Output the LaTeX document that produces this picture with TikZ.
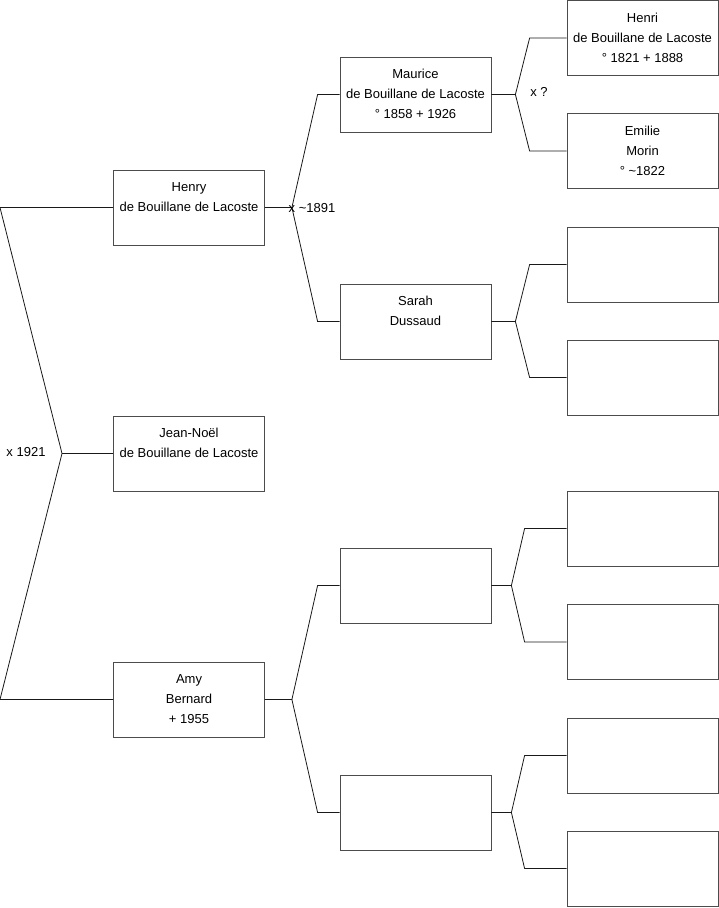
\documentclass[tikz,border=0pt]{standalone}
\usepackage{fontspec}
\setmainfont{Liberation Sans}
\usetikzlibrary{positioning}

\begin{document}
\begin{tikzpicture}[x=1pt,y=-1pt,
		person/.style={draw=black!70, line width=0.8pt, minimum width=151pt, minimum height=75pt, inner sep=0pt},
		txt/.style={align=center, inner sep=0pt, font=\fontsize{13}{20}\selectfont},
		linie/.style={draw=black!90, line width=0.8pt}]
		\useasboundingbox (0,0) rectangle (719,908);
		
		% Generation 1
		\node[person] (henry) at (189,207.5) {};
		\node[person] (jeannoel) at (189,453.5) {};
		\node[person] (amy) at (189,699.5) {};
		
		% Generation 2
		\node[person] (maurice) at (415.5,94.5) {};
		\node[person] (sarah) at (415.5,321.5) {};
		\node[person] (amyv) at (415.5,585.5) {};
		\node[person] (amym) at (415.5,812.5) {};
		
		% Generation 3
		\node[person] (henri) at (642.5,38) {};
		\node[person] (emilie) at (642.5,151) {};
		\node[person] (sarahv) at (642.5,264.5) {};
		\node[person] (sarahm) at (642.5,377.5) {};
		\node[person] (amyvv) at (642.5,528.5) {};
		\node[person] (amyvm) at (642.5,642) {};
		\node[person] (amymv) at (642.5,755.5) {};
		\node[person] (amymm) at (642.5,868.5) {};
		
		% Namen
		\node[txt, below=12.5pt of henry.north] (henry-t) {Henry\\de Bouillane de Lacoste};
		\node[txt, below=12.5pt of jeannoel.north] (jeannoel-t) {Jean-Noël\\de Bouillane de Lacoste};
		\node[txt, below=12.5pt of amy.north] (amy-t) {Amy\\Bernard\\+ 1955};
		\node[txt, below=12.5pt of maurice.north] (maurice-t) {Maurice\\de Bouillane de Lacoste\\° 1858 + 1926};
		\node[txt, below=12.5pt of sarah.north] (sarah-t) {Sarah\\Dussaud};
		\node[txt, below=12.5pt of henri.north] (henri-t) {Henri\\de Bouillane de Lacoste\\° 1821 + 1888};
		\node[txt, below=12.5pt of emilie.north] (emilie-t) {Emilie\\Morin\\° \textasciitilde1822};
		
		% Verbindungen
		\coordinate (r1) at (0,207.5);
		\coordinate (rj) at (62,453.5);
		\coordinate (r2) at (0,699.5);
		\draw[linie] (henry.west) -- (r1) -- (rj) -- (r2) -- (amy.west);
		\draw[linie] (rj) -- (jeannoel.west);
		
		\draw[linie] (henry.east) -- ++(27,0) coordinate (fh) -- ([xshift=-22]maurice.west) -- (maurice.west);
		\draw[linie] (fh) -- ([xshift=-22]sarah.west) -- (sarah.west);
		\draw[linie] (amy.east) -- ++(27,0) coordinate (fa) -- ([xshift=-22]amyv.west) -- (amyv.west);
		\draw[linie] (fa) -- ([xshift=-22]amym.west) -- (amym.west);
		
		\draw[linie] (maurice.east) -- ++(24,0) coordinate (fm) -- ([xshift=-37]henri.west) -- (henri.west);
		\draw[linie] (fm) -- ([xshift=-37]emilie.west) -- (emilie.west);
		\draw[linie] (sarah.east) -- ++(24,0) coordinate (fs) -- ([xshift=-37]sarahv.west) -- (sarahv.west);
		\draw[linie] (fs) -- ([xshift=-37]sarahm.west) -- (sarahm.west);
		\draw[linie] (amyv.east) -- ++(20,0) coordinate (fav) -- ([xshift=-42]amyvv.west) -- (amyvv.west);
		\draw[linie] (fav) -- ([xshift=-42]amyvm.west) -- (amyvm.west);
		\draw[linie] (amym.east) -- ++(20,0) coordinate (fam) -- ([xshift=-42]amymv.west) -- (amymv.west);
		\draw[linie] (fam) -- ([xshift=-42]amymm.west) -- (amymm.west);
		
		% Heiraten
		\node[txt] (h1921) at (26,452) {x 1921};
		\node[txt] (h1891) at (312,208) {x \textasciitilde1891};
		\node[txt] (hfrage) at (539,92) {x ?};
	\end{tikzpicture}
\end{document}
